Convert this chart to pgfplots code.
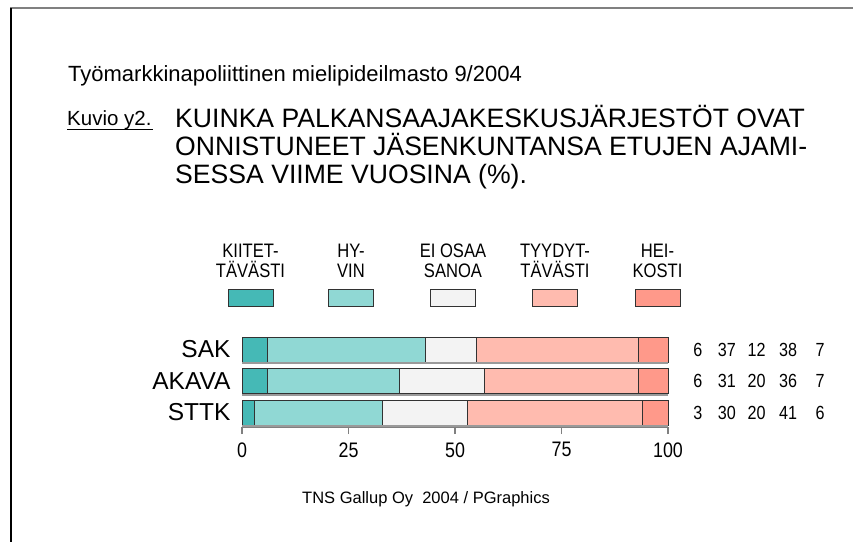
\documentclass[border=0pt]{standalone}
\usepackage{fontspec}
\setmainfont{Liberation Sans}
\newfontfamily\narrowfont{Liberation Sans}[FakeStretch=0.85]
\usepackage{pgfplots}
\pgfplotsset{compat=1.18}

\definecolor{kiit}{RGB}{69,185,182}
\definecolor{hyvin}{RGB}{144,216,212}
\definecolor{eios}{RGB}{243,243,243}
\definecolor{tyyd}{RGB}{255,187,175}
\definecolor{heik}{RGB}{255,153,138}
\definecolor{framegray}{RGB}{128,128,128}
\definecolor{edge}{RGB}{50,50,50}

\newcommand{\fs}[1]{\fontsize{#1}{#1}\selectfont}

\begin{document}
\begin{tikzpicture}[x=1pt,y=1pt]
\useasboundingbox (0,0) rectangle (853,-542);
% frame
\draw[framegray, line width=2pt] (10,-8) -- (853,-8);
\draw[black, line width=2pt] (11,-8) -- (11,-542);

% titles
\node[anchor=base west, inner sep=0] at (68,-81) {\fs{22}Työmarkkinapoliittinen mielipideilmasto 9/2004};
\node[anchor=base west, inner sep=0] at (67,-125) {\fs{20.5}Kuvio y2.};
\draw[line width=1.5pt] (67,-129.5) -- (153,-129.5);
\node[anchor=base west, inner sep=0] at (175,-127) {\fs{26.6}KUINKA PALKANSAAJAKESKUSJÄRJESTÖT OVAT};
\node[anchor=base west, inner sep=0] at (175,-155) {\fs{26.6}ONNISTUNEET JÄSENKUNTANSA ETUJEN AJAMI-};
\node[anchor=base west, inner sep=0] at (175,-183) {\fs{26.6}SESSA VIIME VUOSINA (\%).};

% legend
\foreach \cx/\la/\lb/\col in {250.5/KIITET-/TÄVÄSTI/kiit, 351/HY-/VIN/hyvin, 453/EI OSAA/SANOA/eios, 555/TYYDYT-/TÄVÄSTI/tyyd, 657.5/HEI-/KOSTI/heik} {
  \node[anchor=base, inner sep=0] at (\cx,-257) {\narrowfont\fs{19.5}\la};
  \node[anchor=base, inner sep=0] at (\cx,-277) {\narrowfont\fs{19.5}\lb};
  \draw[edge, line width=1pt, fill=\col] (\cx-22.5,-289) rectangle (\cx+22.5,-306);
}

\coordinate (axorig) at (242,-427);
\begin{axis}[
  at={(axorig)}, anchor=south west,
  scale only axis, width=426pt, height=90.09pt,
  xmin=0, xmax=100, ymin=-0.46, ymax=2.4,
  xbar stacked, bar width=25pt,
  axis x line*=bottom, axis y line*=left,
  x axis line style={framegray, line width=2pt, -},
  y axis line style={draw=none, -},
  xtick={0,25,50,75,100},
  ytick={0,1,2}, yticklabels={STTK,AKAVA,SAK},
  tick align=outside, major tick length=7pt,
  xtick style={framegray, line width=1.5pt},
  ytick style={draw=none},
  xticklabel style={font=\narrowfont\fs{21}, yshift=-5pt, /pgf/number format/assume math mode=true},
  yticklabel style={font=\fs{24.5}, xshift=-1pt},
  clip=false,
]
\draw[framegray!80, line width=2pt] (axis cs:0,2) ++(0pt,-13.5pt) -- ++(426pt,0pt);
\draw[framegray!80, line width=2pt] (axis cs:0,1) ++(0pt,-13.5pt) -- ++(426pt,0pt);
\draw[framegray!80, line width=2pt] (axis cs:0,0) ++(0pt,-13.5pt) -- ++(426pt,0pt);
\addplot[fill=kiit, draw=edge, line width=1pt] coordinates {(3,0) (6,1) (6,2)};
\addplot[fill=hyvin, draw=edge, line width=1pt] coordinates {(30,0) (31,1) (37,2)};
\addplot[fill=eios, draw=edge, line width=1pt] coordinates {(20,0) (20,1) (12,2)};
\addplot[fill=tyyd, draw=edge, line width=1pt] coordinates {(41,0) (36,1) (38,2)};
\addplot[fill=heik, draw=edge, line width=1pt] coordinates {(6,0) (7,1) (7,2)};
% values
\node[font=\narrowfont\fs{19}] at (axis cs:107.0,2) {6};
\node[font=\narrowfont\fs{19}] at (axis cs:113.8,2) {37};
\node[font=\narrowfont\fs{19}] at (axis cs:120.8,2) {12};
\node[font=\narrowfont\fs{19}] at (axis cs:128.2,2) {38};
\node[font=\narrowfont\fs{19}] at (axis cs:135.7,2) {7};
\node[font=\narrowfont\fs{19}] at (axis cs:107.0,1) {6};
\node[font=\narrowfont\fs{19}] at (axis cs:113.8,1) {31};
\node[font=\narrowfont\fs{19}] at (axis cs:120.8,1) {20};
\node[font=\narrowfont\fs{19}] at (axis cs:128.2,1) {36};
\node[font=\narrowfont\fs{19}] at (axis cs:135.7,1) {7};
\node[font=\narrowfont\fs{19}] at (axis cs:107.0,0) {3};
\node[font=\narrowfont\fs{19}] at (axis cs:113.8,0) {30};
\node[font=\narrowfont\fs{19}] at (axis cs:120.8,0) {20};
\node[font=\narrowfont\fs{19}] at (axis cs:128.2,0) {41};
\node[font=\narrowfont\fs{19}] at (axis cs:135.7,0) {6};
\end{axis}

% footer
\node[anchor=base west, inner sep=0] at (302,-503) {\fs{16.5}TNS Gallup Oy\ \ 2004 / PGraphics};
\end{tikzpicture}
\end{document}
